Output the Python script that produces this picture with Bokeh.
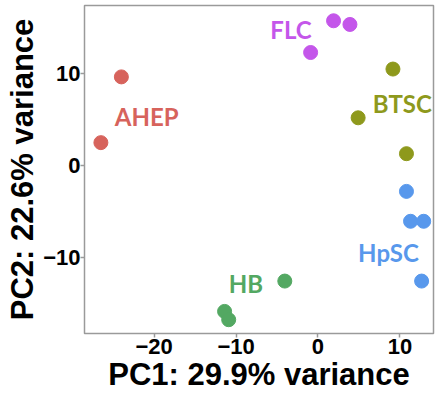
from bokeh.plotting import figure
from bokeh.models import ColumnDataSource, Range1d, FixedTicker
from bokeh.core.properties import value
from bokeh.embed import file_html
from bokeh.resources import INLINE

groups = ["AHEP", "AHEP", "FLC", "FLC", "FLC", "BTSC", "BTSC", "BTSC",
          "HpSC", "HpSC", "HpSC", "HpSC", "HB", "HB", "HB"]
pc1 = [-24.0, -26.5, -0.9, 1.9, 3.9, 9.15, 4.9, 10.8,
       10.8, 11.3, 12.9, 12.65, -4.05, -11.4, -10.9]
pc2 = [9.6, 2.45, 12.25, 15.7, 15.3, 10.45, 5.15, 1.25,
       -2.85, -6.1, -6.1, -12.6, -12.6, -15.9, -16.8]

label_names = ["AHEP", "FLC", "BTSC", "HpSC", "HB"]
label_x = [-20.9, -3.3, 10.3, 8.6, -8.8]
label_y = [5.3, 14.8, 6.7, -9.5, -12.9]

palette = {"AHEP": "#D7635C", "FLC": "#C456EA", "BTSC": "#8E991C",
           "HpSC": "#5898EC", "HB": "#53A862"}

x_ticks = [-20, -10, 0, 10]
y_ticks = [-10, 0, 10]

p = figure(width=435, height=396, output_backend="svg", toolbar_location=None,
           x_range=Range1d(-28.5, 14.1), y_range=Range1d(-18.3, 17.36),
           min_border_left=84, min_border_right=2, min_border_top=5,
           min_border_bottom=63)

p.background_fill_color = "white"
p.border_fill_color = "white"
p.outline_line_color = "#9a9a9a"
p.outline_line_width = 1.5
p.xgrid.visible = False
p.ygrid.visible = False

src = ColumnDataSource(dict(x=pc1, y=pc2, c=[palette[g] for g in groups]))
p.scatter("x", "y", source=src, size=14, fill_color="c", line_color="c")

lsrc = ColumnDataSource(dict(x=label_x, y=label_y, t=label_names,
                             c=[palette[g] for g in label_names]))
p.text("x", "y", text="t", source=lsrc, text_color="c",
       text_font=value("Lato"), text_font_style="bold", text_font_size="24px",
       text_align="center", text_baseline="middle")

for ax in (p.xaxis[0], p.yaxis[0]):
    ax.axis_line_color = None
    ax.major_tick_line_color = "#9a9a9a"
    ax.major_tick_line_width = 1.5
    ax.major_tick_in = 0
    ax.major_tick_out = 4
    ax.minor_tick_line_color = None
    ax.major_label_text_font = "Liberation Sans"
    ax.major_label_text_font_style = "bold"
    ax.major_label_text_font_size = "22px"
    ax.major_label_text_color = "black"
    ax.axis_label_text_font = "Liberation Sans"
    ax.axis_label_text_font_style = "bold"
    ax.axis_label_text_font_size = "31px"
    ax.axis_label_text_color = "black"

p.xaxis[0].ticker = FixedTicker(ticks=x_ticks)
p.yaxis[0].ticker = FixedTicker(ticks=y_ticks)
p.xaxis[0].axis_label = "PC1: 29.9% variance"
p.yaxis[0].axis_label = "PC2: 22.6% variance"
p.xaxis[0].major_label_standoff = 1
p.yaxis[0].major_label_standoff = 0
p.xaxis[0].axis_label_standoff = 0
p.yaxis[0].axis_label_standoff = 0

open("out.html", "w").write(file_html(p, INLINE))
